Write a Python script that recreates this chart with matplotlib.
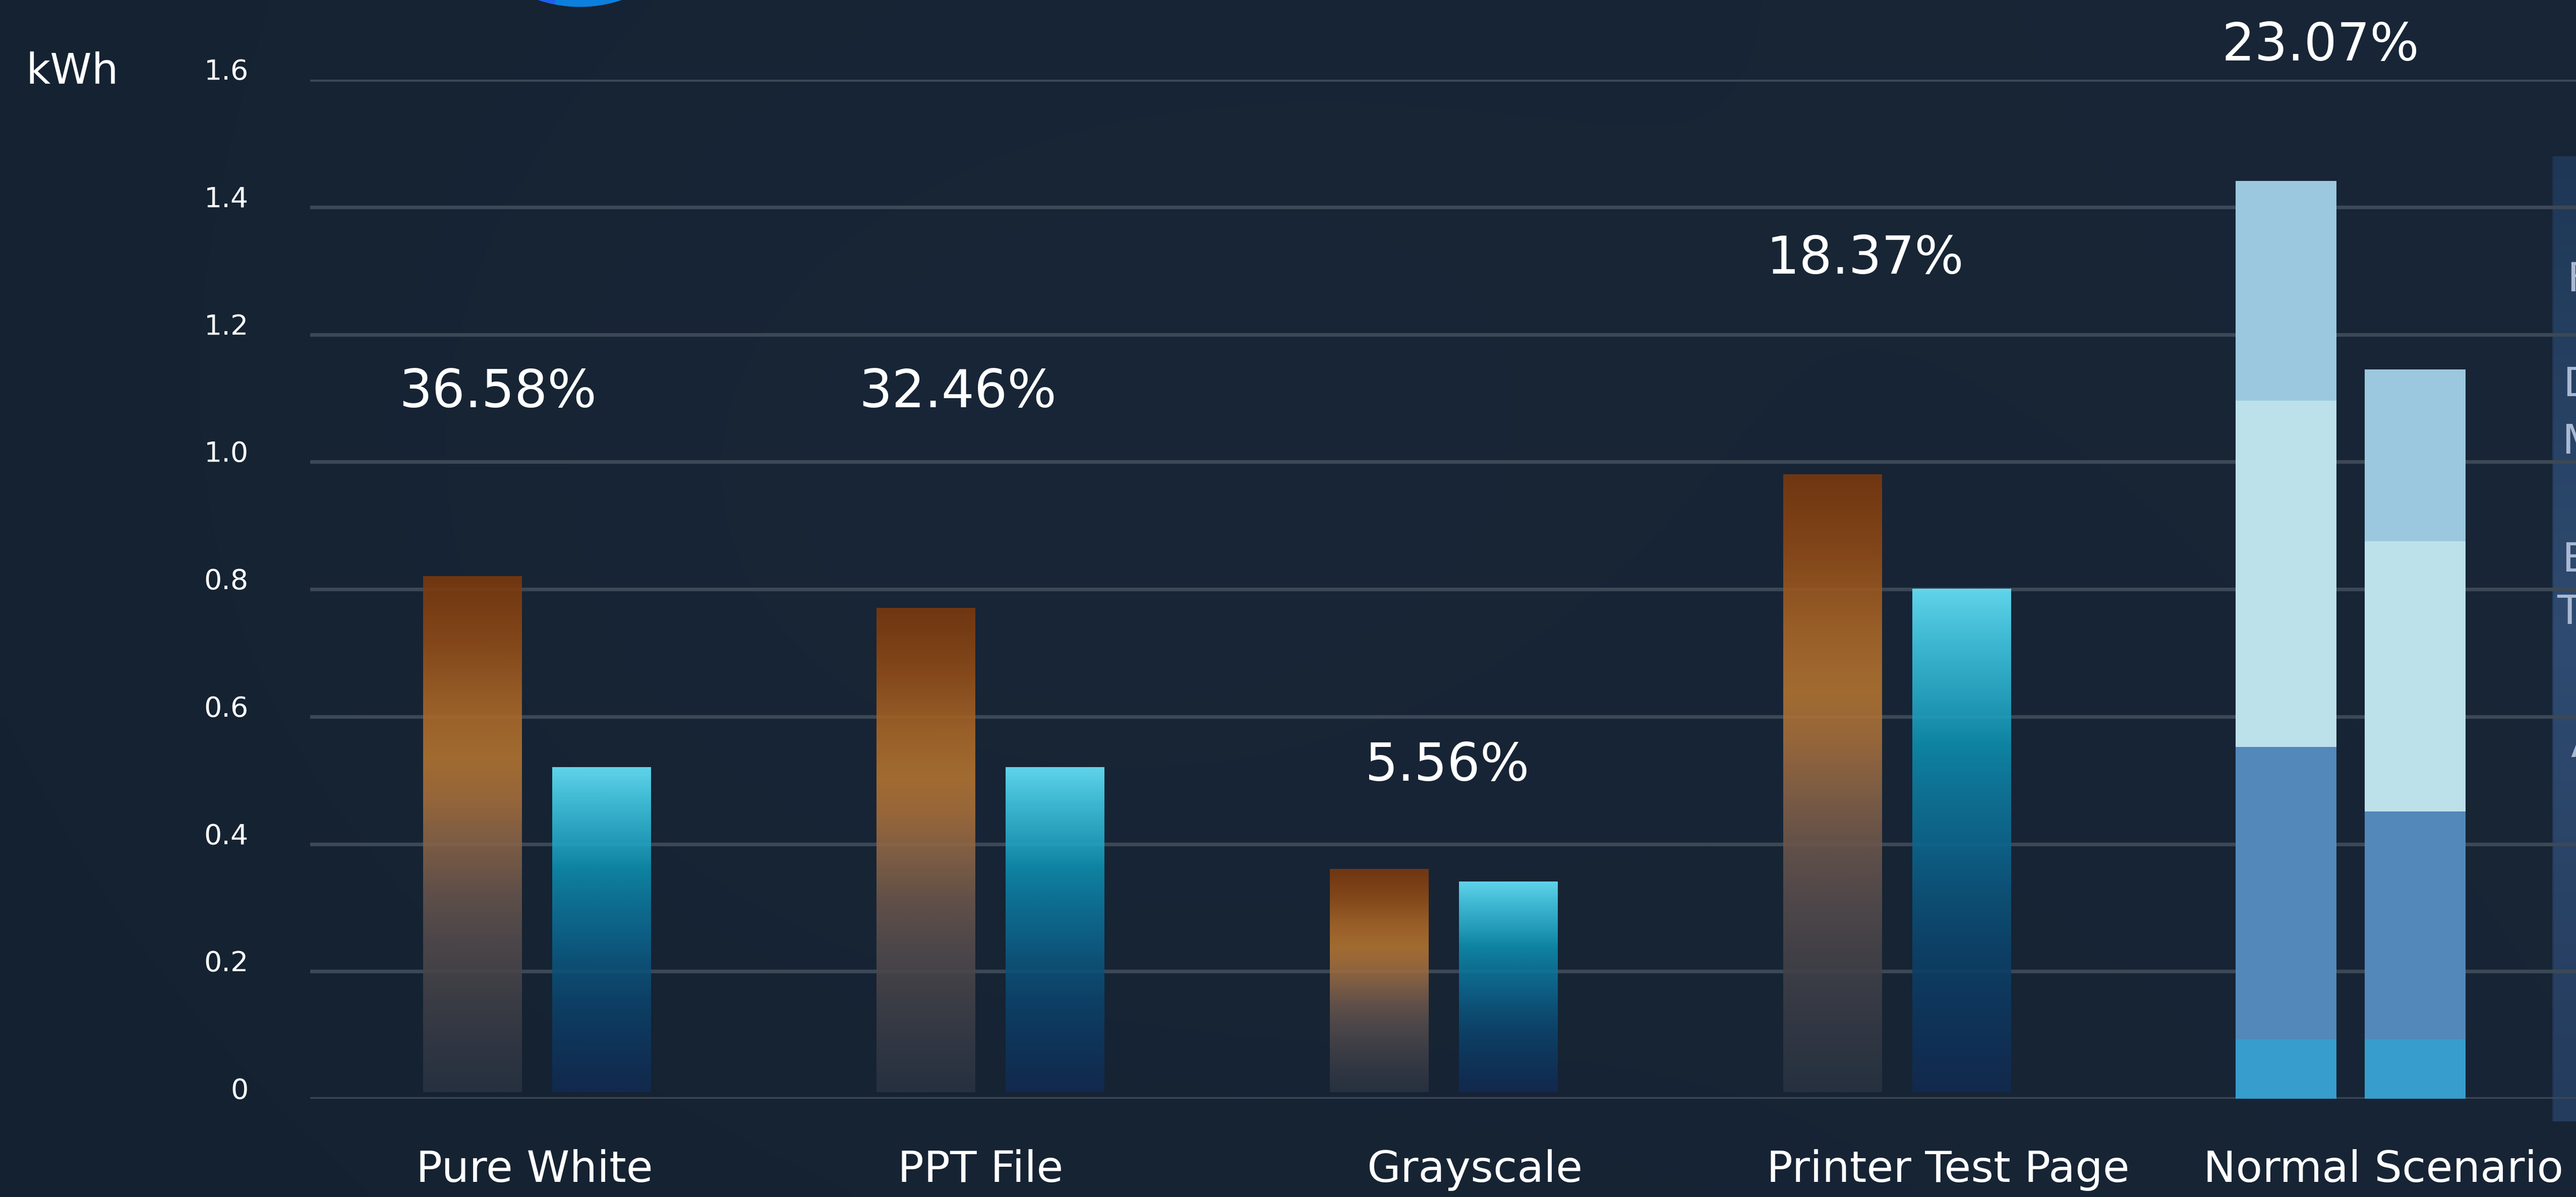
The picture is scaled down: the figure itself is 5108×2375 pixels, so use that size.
import numpy as np
import matplotlib
matplotlib.use("Agg")
import matplotlib.pyplot as plt
from matplotlib.patches import Circle, Wedge

# ---------------- data ----------------
categories = ["Pure White", "PPT File", "Grayscale", "Printer Test Page", "Normal Scenario"]
before_vals = [0.82, 0.77, 0.36, 0.98]          # orange gradient bars
after_vals = [0.52, 0.52, 0.34, 0.80]           # cyan gradient bars
pct_labels = ["36.58%", "32.46%", "5.56%", "18.37%", "23.07%"]

# Normal scenario stacked segments (bottom -> top)
normal_before = [0.093, 0.459, 0.544, 0.345]
normal_after = [0.093, 0.358, 0.424, 0.270]
seg_colors = ["#379dcc", "#5288ba", "#bce1ea", "#9bc8de"]

ytick_vals = [0, 0.2, 0.4, 0.6, 0.8, 1.0, 1.2, 1.4, 1.6]
ytick_labels = ["0", "0.2", "0.4", "0.6", "0.8", "1.0", "1.2", "1.4", "1.6"]
legend_lines = ["Film", "Design", "Mode", "Browsing", "Text", "Apps"]

# ---------------- layout ----------------
W, H = 5108, 2375
fig = plt.figure(figsize=(W / 100, H / 100), dpi=100)
fig.patch.set_facecolor("#162232")

# background gradient
bg_ax = fig.add_axes([0, 0, 1, 1], zorder=-10)
bg_ax.set_xlim(0, 1); bg_ax.set_ylim(0, 1); bg_ax.axis("off")
nx, ny = 256, 128
xx, yy = np.meshgrid(np.linspace(0, 1, nx), np.linspace(1, 0, ny))
c0 = np.array([20, 33, 48]) / 255
c1 = np.array([26, 40, 58]) / 255
t = 0.55 * xx + 0.15 * yy
spot = np.exp(-(((xx - 0.35) / 0.3) ** 2 + ((yy - 0.55) / 0.5) ** 2)) * 0.35
t = np.clip(t + spot, 0, 1)
bg = c0[None, None, :] * (1 - t[..., None]) + c1[None, None, :] * t[..., None]
bg_ax.imshow(bg, extent=[0, 1, 0, 1], aspect="auto", interpolation="bicubic")

# right legend panel (mostly cut off)
px0, px1 = 5061 / W, 1.0
py0, py1 = 1 - 2225 / H, 1 - 310 / H
pn = 200
tv = np.linspace(0, 1, pn)[:, None]   # 0 top -> 1 bottom
top_c = np.array([32, 58, 90]); mid_c = np.array([50, 80, 120]); bot_c = np.array([38, 63, 98])
pc = np.where(tv < 0.5, top_c * (1 - tv / 0.5) + mid_c * (tv / 0.5),
              mid_c * (1 - (tv - 0.5) / 0.5) + bot_c * ((tv - 0.5) / 0.5)) / 255
panel = np.zeros((pn, 20, 4))
panel[..., :3] = pc[:, None, :].repeat(20, axis=1)
panel[..., 3] = 0.9
panel[:, 0, 3] = 0.6
bg_ax.imshow(panel, extent=[px0, px1, py0, py1], aspect="auto", interpolation="bilinear", zorder=2)

# blue logo fragment at top
cx, cy, r = 1150 / 100, (H + 245) / 100, 258 / 100
fig.add_artist(Circle((cx, cy), r, transform=fig.dpi_scale_trans, color="#0c80de", zorder=5))
fig.add_artist(Wedge((cx, cy), r, 200, 258.7, transform=fig.dpi_scale_trans, color="#1e5ff0", zorder=6))

# main axes
x_left_px, zero_px, top_px = 615, 2180, 158
ax = fig.add_axes([x_left_px / W, 1 - zero_px / H, 1 - x_left_px / W, (zero_px - top_px) / H])
ax.set_facecolor("none")
for s in ax.spines.values():
    s.set_visible(False)

ax.set_yticks(ytick_vals)
ax.set_yticklabels(ytick_labels)
ax.set_xticks([])
ax.tick_params(axis="y", length=0, pad=88, labelsize=40, labelcolor="white")
for lbl in ax.get_yticklabels():
    lbl.set_verticalalignment("baseline")
    lbl.set_family("DejaVu Sans")
ax.yaxis.grid(True, color="#3c4856", linewidth=5.2)
ax.set_axisbelow(True)

bar_w = 0.218
off = 0.1425
bar_floor = 0.010


def grad(stops, n=256, alpha=0.9):
    pos = np.array([s[0] for s in stops])
    cols = np.array([s[1] for s in stops], dtype=float) / 255
    tt = np.linspace(0, 1, n)
    out = np.stack([np.interp(tt, pos, cols[:, k]) for k in range(3)], axis=1)
    img = np.ones((n, 2, 4))
    img[..., :3] = out[:, None, :]
    img[..., 3] = alpha
    return img


orange = grad([(0.0, (122, 57, 14)), (0.12, (142, 74, 22)), (0.25, (168, 102, 40)),
               (0.35, (178, 116, 48)), (0.43, (165, 110, 60)), (0.51, (138, 100, 70)),
               (0.61, (105, 85, 76)), (0.71, (82, 74, 76)), (0.83, (62, 63, 71)),
               (1.0, (40, 50, 65))])
cyan = grad([(0.0, (105, 232, 255)), (0.11, (65, 200, 228)), (0.22, (38, 170, 200)),
             (0.31, (14, 142, 175)), (0.40, (14, 122, 158)), (0.50, (12, 104, 144)),
             (0.60, (13, 85, 125)), (0.72, (13, 67, 107)), (0.85, (15, 54, 93)),
             (1.0, (18, 42, 80))])

for i, (b, a) in enumerate(zip(before_vals, after_vals)):
    ax.imshow(orange, extent=[i - off - bar_w / 2, i - off + bar_w / 2, bar_floor, b],
              aspect="auto", interpolation="bilinear", zorder=2)
    ax.imshow(cyan, extent=[i + off - bar_w / 2, i + off + bar_w / 2, bar_floor, a],
              aspect="auto", interpolation="bilinear", zorder=2)

ni = len(categories) - 1
for xpos, segs in ((ni - off, normal_before), (ni + off, normal_after)):
    bottom = 0.0
    for h, c in zip(segs, seg_colors):
        ax.bar(xpos, h, width=bar_w + 0.004, bottom=bottom, color=c, zorder=3, linewidth=0)
        bottom += h

ax.set_xlim(-(1065 - x_left_px) / 899, (W - 1065) / 899)
ax.set_ylim(0, 1.6)

# category labels
label_x = [-0.006, 0.978, 2.068, 3.112, 4.072]
for lx, name in zip(label_x, categories):
    ax.text(lx, -0.1306, name, ha="center", va="baseline", fontsize=62,
            color="white", family="DejaVu Sans", clip_on=False)

# percentage labels
pct_x = [-0.087, 0.928, 2.007, 2.929, 3.934]
pct_y = [1.086, 1.086, 0.499, 1.295, 1.630]
for px, py, s in zip(pct_x, pct_y, pct_labels):
    ax.text(px, py, s, ha="center", va="baseline", fontsize=74,
            color="white", family="DejaVu Sans", clip_on=False)

# unit label
fig.text(51 / W, 1 - 166 / H, "kWh", ha="left", va="baseline", fontsize=60,
         color="white", family="DejaVu Sans")

# legend text (cut off at right edge, as in the reference)
legend_x = [5090, 5082, 5080, 5080, 5070, 5097]
legend_y = [578, 786, 900, 1134, 1238, 1502]
for s, lxp, yb in zip(legend_lines, legend_x, legend_y):
    fig.text(lxp / W, 1 - yb / H, s, ha="left", va="baseline", fontsize=58,
             color="#a9b9d4", family="DejaVu Sans", zorder=20)

fig.savefig("out.png", dpi=100, facecolor=fig.get_facecolor())
